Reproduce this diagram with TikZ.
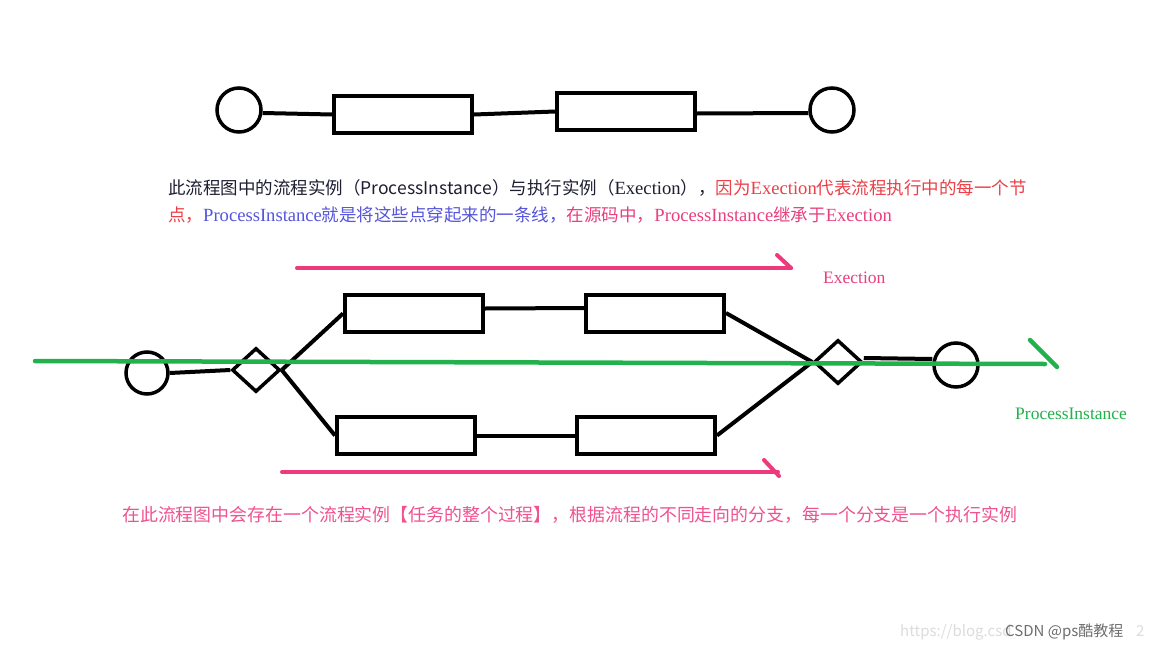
\documentclass[tikz,border=0pt]{standalone}
\usepackage{fontspec}
\usetikzlibrary{shapes.geometric,calc}
\setmainfont{Liberation Serif}
\newfontfamily\cjk{Noto Sans CJK SC}
\newcommand\zhs[1]{{\cjk #1}}
\newcommand\lts[1]{{\fontsize{18.6}{20}\selectfont #1}}
\definecolor{darktxt}{HTML}{1E1E32}
\definecolor{redtxt}{HTML}{EC4048}
\definecolor{bluetxt}{HTML}{5555DD}
\definecolor{pinktxt}{HTML}{E8407E}
\definecolor{pinkline}{HTML}{EE3A7C}
\definecolor{pinkbottom}{HTML}{EF5290}
\definecolor{pigreen}{HTML}{22B14C}
\definecolor{wmgray}{HTML}{6E6E6E}
\definecolor{wmlight}{HTML}{DCDCDC}
\tikzset{
  stepbox/.style={draw=black,line width=4pt,rectangle,minimum width=138pt,minimum height=37pt,inner sep=0pt},
  endcircle/.style={draw=black,line width=3.5pt,circle,minimum size=42pt,inner sep=0pt},
  gateway/.style={draw=black,line width=3.5pt,diamond,minimum width=48pt,minimum height=44pt,inner sep=0pt},
  conn/.style={line width=4pt,draw=black},
  pinkarrow/.style={line width=4pt,draw=pinkline,line cap=round},
  greenline/.style={line width=4.5pt,draw=pigreen,line cap=round},
  txt/.style={anchor=base west,inner sep=0pt,font=\fontsize{17.5}{20}\selectfont},
}
\begin{document}
\begin{tikzpicture}[x=1pt,y=-1pt]
\useasboundingbox[fill=white] (0,0) rectangle (1152,648);
% top row
\node[endcircle,minimum height=44pt] (c1) at (239,110) {};
\node[stepbox] (r1) at (403,114.5) {};
\node[stepbox] (r2) at (626,111.5) {};
\node[endcircle,minimum height=44pt] (c2) at (832,110) {};
\draw[conn] ($(c1.east)+(0,3)$) -- (r1.west);
\draw[conn] (r1.east) -- (r2.west);
\draw[conn] ($(r2.east)+(0,2)$) -- ($(c2.west)+(0,3)$);
% text
\node[txt,text=darktxt] (t1) at (168,194) {\zhs{此流程图中的流程实例（ProcessInstance）与执行实例（}\lts{Exection}\zhs{），}\textcolor{redtxt}{\zhs{因为}\lts{Exection}\zhs{代表流程执行中的每一个节}}};
\node[txt] (t2) at (168,221) {\textcolor{redtxt}{\zhs{点，}}\textcolor{bluetxt}{\lts{ProcessInstance}\zhs{就是将这些点穿起来的一条线，}}\textcolor{pinktxt}{\zhs{在源码中，}\lts{ProcessInstance}\zhs{继承于}\lts{Exection}}};
% middle diagram
\node[endcircle] (c3) at (147,373) {};
\node[gateway] (d1) at (256,370) {};
\node[stepbox] (u1) at (414,313.5) {};
\node[stepbox] (u2) at (655,313) {};
\node[stepbox] (l1) at (406,435.5) {};
\node[stepbox] (l2) at (646,435.5) {};
\node[gateway] (d2) at (838,362) {};
\node[endcircle,minimum size=44pt] (c4) at (956,365) {};
\draw[conn] (c3.east) -- (d1.west);
\draw[conn] (d1.east) -- (u1.west);
\draw[conn] (d1.east) -- (l1.west);
\draw[conn] ($(u1.east)+(0,-5)$) -- ($(u2.west)+(0,-5)$);
\draw[conn] (l1.east) -- (l2.west);
\draw[conn] (u2.east) -- (d2.west);
\draw[conn] (l2.east) -- (d2.west);
\draw[conn] ($(d2.east)+(0,-4)$) -- ($(c4.west)+(0,-6)$);
% pink arrows
\coordinate (p0) at (297,268); \coordinate (p1) at (791,268);
\coordinate (ph) at (777,255);
\draw[pinkarrow] (p0) -- (p1);
\draw[pinkarrow] (ph) -- (p1);
\coordinate (q0) at (282,472); \coordinate (q1) at (778,472);
\coordinate (qh) at (764,460); \coordinate (qe) at (779,476);
\draw[pinkarrow] (q0) -- (q1);
\draw[pinkarrow] (qh) -- (qe);
% green line
\coordinate (g0) at (35,361); \coordinate (g1) at (1045,364);
\coordinate (gh) at (1030,340); \coordinate (ge) at (1057,367);
\draw[greenline] (g0) -- (g1);
\draw[greenline] (gh) -- (ge);
% labels
\node[txt,text=pinktxt] (lex) at (823,283) {Exection};
\node[txt,text=pigreen] (lpi) at (1015,419) {ProcessInstance};
\node[txt,text=pinkbottom,font=\fontsize{17.9}{20}\selectfont] (t3) at (122,521) {\zhs{在此流程图中会存在一个流程实例【任务的整个过程】，根据流程的不同走向的分支，每一个分支是一个执行实例}};
% watermark
\node[anchor=base west,inner sep=0pt,text=wmlight,font=\cjk\fontsize{15}{17}\selectfont] (wm0) at (900,636) {https://blog.csd};
\node[anchor=base west,inner sep=0pt,text=wmlight,font=\cjk\fontsize{15}{17}\selectfont] (wm2) at (1136,636) {2};
\node[anchor=base west,inner sep=0pt,text=wmgray,font=\cjk\fontsize{15}{17}\selectfont] (wm1) at (1005,636) {CSDN @ps酷教程};
\end{tikzpicture}
\end{document}
